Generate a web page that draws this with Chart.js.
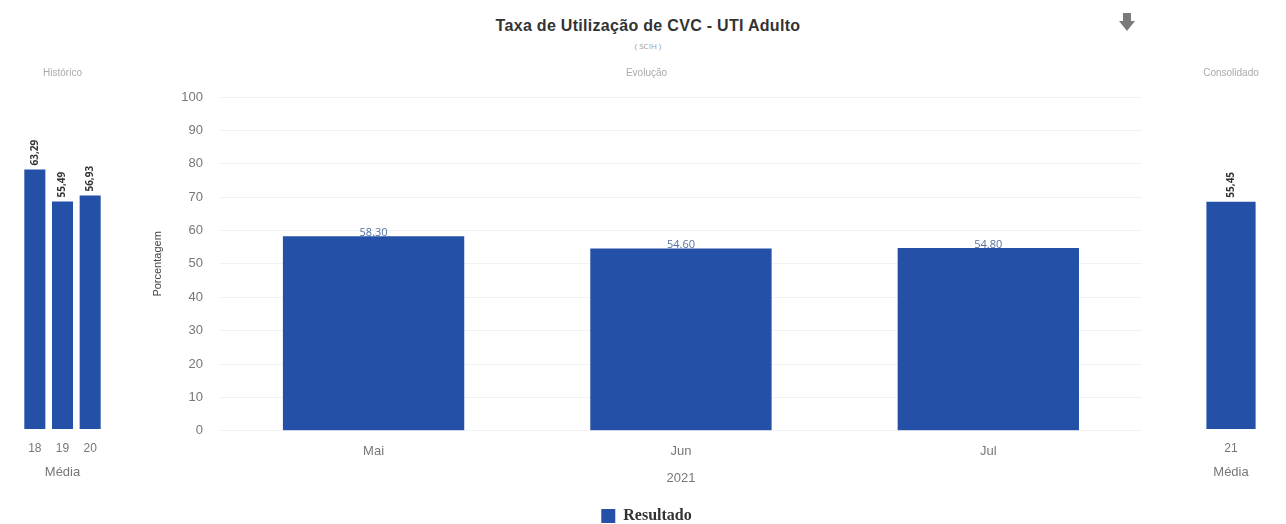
<!DOCTYPE html>
<html>
<head>
<meta charset="utf-8">
<script src="https://cdn.jsdelivr.net/npm/chart.js@4"></script>
<style>
  body { margin: 0; width: 1286px; height: 524px; background: #fff; font-family: "Open Sans", sans-serif; position: relative; overflow: hidden; }
  .box { position: absolute; }
  #title { position: absolute; left: 0; width: 1296px; top: 17px; text-align: center; font: bold 16px Arial, "Liberation Sans", sans-serif; letter-spacing: 0.3px; color: #333; }
  #sub { position: absolute; left: 0; width: 1296px; top: 40px; text-align: center; font: 8px "Open Sans", sans-serif; color: #999; }
  #dl { position: absolute; left: 1118px; top: 12px; width: 18px; height: 20px; }
</style>
</head>
<body>
<div id="title">Taxa de Utilização de CVC - UTI Adulto</div>
<div id="sub">( SCIH )</div>
<svg id="dl" viewBox="0 0 18 20"><path d="M5 1 H13 V9 H17 L9 19 L1 9 H5 Z" fill="#7a7a7a"/></svg>
<div class="box" style="left:10px; top:60px; width:105px; height:422px"><canvas id="histChart"></canvas></div>
<div class="box" style="left:140px; top:60px; width:1020px; height:474px"><canvas id="mainChart"></canvas></div>
<div class="box" style="left:1180px; top:60px; width:100px; height:422px"><canvas id="consChart"></canvas></div>
<script>
document.addEventListener('DOMContentLoaded', function () {
    const histLabels = ['18', '19', '20'];
    const histValues = [63.29, 55.49, 56.93];
    const mainLabels = ['Mai', 'Jun', 'Jul'];
    const mainValues = [58.30, 54.60, 54.80];
    const consLabels = ['21'];
    const consValues = [55.45];

    const barColor = '#2450a8';
    const grayText = '#777';

    // rotulos em cima das barras
    const valueLabels = {
        id: 'valueLabels',
        afterDatasetsDraw(chart, args, opts) {
            const c = chart.ctx;
            const meta = chart.getDatasetMeta(0);
            const data = chart.data.datasets[0].data;
            c.save();
            meta.data.forEach((bar, i) => {
                if (opts.rotated) {
                    c.font = 'bold 10px "Open Sans", sans-serif';
                    c.fillStyle = '#333';
                    c.translate(bar.x, bar.y - 4);
                    c.rotate(-Math.PI / 2);
                    c.textAlign = 'left';
                    c.textBaseline = 'middle';
                    c.fillText(data[i].toFixed(2).replace('.', ','), 0, 0);
                    c.setTransform(1, 0, 0, 1, 0, 0);
                } else {
                    c.font = '11px "Open Sans", sans-serif';
                    c.fillStyle = '#55709f';
                    c.textAlign = 'center';
                    c.textBaseline = 'bottom';
                    c.fillText(data[i].toFixed(2), bar.x, bar.y + 2);
                }
            });
            c.restore();
        }
    };

    function sideChart(id, labels, values, title, pct, padL, padR) {
        return new Chart(document.getElementById(id), {
            type: 'bar',
            data: {
                labels: labels,
                datasets: [{ label: 'Resultado', data: values, backgroundColor: barColor, barPercentage: pct, categoryPercentage: 1 }]
            },
            options: {
                responsive: true,
                maintainAspectRatio: false,
                animation: false,
                layout: { padding: { left: padL, right: padR } },
                plugins: {
                    legend: { display: false },
                    tooltip: { enabled: false },
                    title: { display: true, text: title, color: '#aaa', font: { size: 10, weight: 'normal' }, padding: { top: 7, bottom: 22 } },
                    valueLabels: { rotated: true }
                },
                scales: {
                    y: { display: false, beginAtZero: true, max: 80 },
                    x: {
                        grid: { display: false },
                        border: { display: false },
                        ticks: { color: grayText, font: { size: 12 }, padding: 4 },
                        title: { display: true, text: 'Média', color: grayText, font: { size: 13 }, padding: { top: 5, bottom: 2 } }
                    }
                }
            },
            plugins: [valueLabels]
        });
    }

    sideChart('histChart', histLabels, histValues, 'Histórico', 0.76, 11, 11);
    sideChart('consChart', consLabels, consValues, 'Consolidado', 0.6, 10, 8);

    new Chart(document.getElementById('mainChart'), {
        type: 'bar',
        data: {
            labels: mainLabels,
            datasets: [{ label: 'Resultado', data: mainValues, backgroundColor: barColor, barPercentage: 0.59, categoryPercentage: 1 }]
        },
        options: {
            responsive: true,
            maintainAspectRatio: false,
            animation: false,
            layout: { padding: { left: 11, right: 18 } },
            plugins: {
                legend: {
                    position: 'bottom',
                    labels: { boxWidth: 14, boxHeight: 14, color: '#333', font: { family: '"Liberation Serif", serif', size: 16, weight: 'bold' }, padding: 4 }
                },
                tooltip: { enabled: false },
                title: { display: true, text: 'Evolução', color: '#aaa', font: { size: 10, weight: 'normal' }, padding: { top: 7, bottom: 18 } },
                valueLabels: { rotated: false }
            },
            scales: {
                y: {
                    beginAtZero: true,
                    min: 0,
                    max: 100,
                    ticks: { stepSize: 10, color: grayText, font: { size: 13 }, padding: 17 },
                    grid: { color: 'rgba(0,0,0,0.05)', drawTicks: false },
                    border: { display: false },
                    title: { display: true, text: 'Porcentagem', color: '#444', font: { size: 11 }, padding: 0 }
                },
                x: {
                    grid: { display: false },
                    border: { display: false },
                    ticks: { color: grayText, font: { size: 13 }, padding: 5 },
                    title: { display: true, text: '2021', color: grayText, font: { size: 13 }, padding: { top: 6, bottom: 18 } }
                }
            }
        },
        plugins: [valueLabels]
    });
});
</script>
</body>
</html>
